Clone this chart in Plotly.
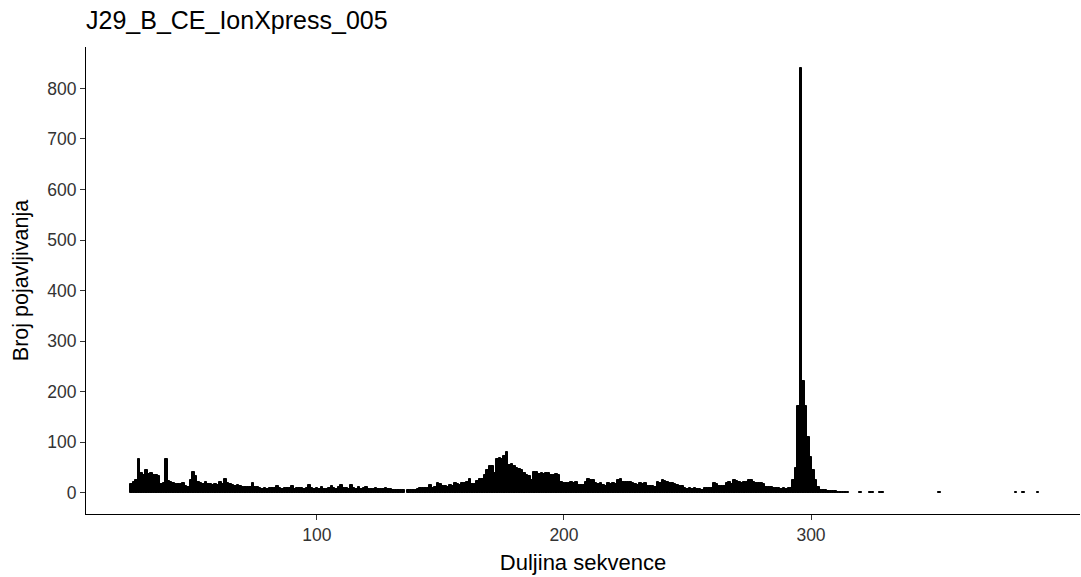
import plotly.graph_objects as go

# Histogram of sequence lengths (bin width 1), counts
first_length = 25
counts_main = [
    18, 22, 25, 66, 40, 35, 46, 38, 40, 36,   # 25-34
    35, 33, 18, 20, 66, 24, 22, 20, 18, 17,   # 35-44
    18, 20, 13, 12, 25, 41, 33, 22, 20, 17,   # 45-54
    22, 18, 17, 16, 17, 16, 22, 18, 27, 20,   # 55-64
    18, 15, 14, 15, 13, 12, 11, 12, 11, 20,   # 65-74
    12, 11, 9, 8, 9, 8, 9, 10, 9, 14,         # 75-84
    9, 8, 10, 9, 9, 14, 8, 9, 10, 9,          # 85-94
    8, 9, 16, 9, 8, 9, 8, 12, 8, 7,           # 95-104
    9, 14, 9, 8, 12, 16, 10, 9, 8, 15,        # 105-114
    9, 8, 12, 8, 9, 11, 8, 7, 8, 9,           # 115-124
    8, 7, 8, 9, 8, 7, 6, 6, 5, 6,             # 125-134
    5, 0, 5, 6, 5, 6, 7, 9, 10, 9,            # 135-144
    10, 16, 10, 12, 19, 17, 13, 14, 12, 15,   # 145-154
    14, 19, 18, 15, 20, 20, 22, 28, 17, 18,   # 155-164
    24, 28, 27, 36, 45, 53, 52, 39, 66, 68,   # 165-174
    67, 72, 80, 55, 56, 52, 50, 47, 45, 40,   # 175-184
    36, 34, 26, 42, 41, 38, 40, 37, 40, 39,   # 185-194
    36, 35, 37, 36, 22, 20, 19, 20, 21, 20,   # 195-204
    22, 16, 15, 16, 22, 27, 25, 26, 19, 18,   # 205-214
    19, 16, 14, 19, 17, 19, 18, 25, 27, 22,   # 215-224
    21, 22, 21, 20, 17, 16, 19, 18, 19, 14,   # 225-234
    13, 14, 12, 21, 20, 26, 24, 21, 20, 19,   # 235-244
    17, 16, 14, 13, 9, 8, 9, 8, 9, 8,         # 245-254
    7, 6, 10, 9, 10, 9, 20, 18, 14, 13,       # 255-264
    14, 20, 21, 18, 26, 24, 21, 20, 21, 22,   # 265-274
    26, 25, 21, 20, 20, 19, 18, 12, 11, 12,   # 275-284
    10, 9, 9, 8, 9, 8, 9, 10, 25, 49,         # 285-294
    172, 840, 222, 172, 110, 70, 45, 25, 12, 6,  # 295-304
    5, 5, 4, 4, 3, 3, 2, 2, 1, 2,             # 305-314
    1,                                        # 315
]
tail_lengths = [320, 324, 325, 328, 329, 352, 383, 386, 392]
tail_counts = [1, 1, 1, 1, 1, 1, 1, 1, 1]

lengths = [first_length + i for i in range(len(counts_main))] + tail_lengths
counts = counts_main + tail_counts
# drop empty bins
pairs = [(l, c) for l, c in zip(lengths, counts) if c > 0]
xs = [p[0] for p in pairs]
ys = [p[1] for p in pairs]

x_ticks = [100, 200, 300]
y_ticks = [0, 100, 200, 300, 400, 500, 600, 700, 800]

FONT = "Liberation Sans, Arial, sans-serif"

fig = go.Figure(
    go.Bar(
        x=xs, y=ys, width=1,
        marker=dict(color="black", line=dict(color="black", width=1)),
        hoverinfo="x+y",
    )
)

fig.update_layout(
    width=1081, height=577,
    margin=dict(l=86, r=1, t=47, b=63),
    paper_bgcolor="white", plot_bgcolor="white",
    showlegend=False, bargap=0,
    font=dict(family=FONT, color="black"),
    title=dict(
        text="J29_B_CE_IonXpress_005",
        font=dict(family=FONT, size=25, color="black"),
        xref="paper", x=0, xanchor="left",
        yref="container", y=1 - 20 / 577, yanchor="middle",
    ),
    xaxis=dict(
        range=[6.5, 408.9],
        tickvals=x_ticks, ticktext=[str(v) for v in x_ticks],
        ticks="outside", ticklen=5, tickwidth=1, tickcolor="#333333",
        showline=True, linecolor="black", linewidth=1.2,
        showgrid=False, zeroline=False,
        tickfont=dict(family=FONT, size=17.5, color="#333333"),
        title=dict(text="Duljina sekvence", standoff=10,
                   font=dict(family=FONT, size=22, color="black")),
    ),
    yaxis=dict(
        range=[-42, 882],
        tickvals=y_ticks, ticktext=[str(v) for v in y_ticks],
        ticks="outside", ticklen=5, tickwidth=1, tickcolor="#333333",
        showline=True, linecolor="black", linewidth=1.2,
        showgrid=False, zeroline=False,
        tickfont=dict(family=FONT, size=17.5, color="#333333"),
        title=dict(text="Broj pojavljivanja", standoff=12,
                   font=dict(family=FONT, size=21.5, color="black")),
    ),
)

fig.write_html("out.html")
